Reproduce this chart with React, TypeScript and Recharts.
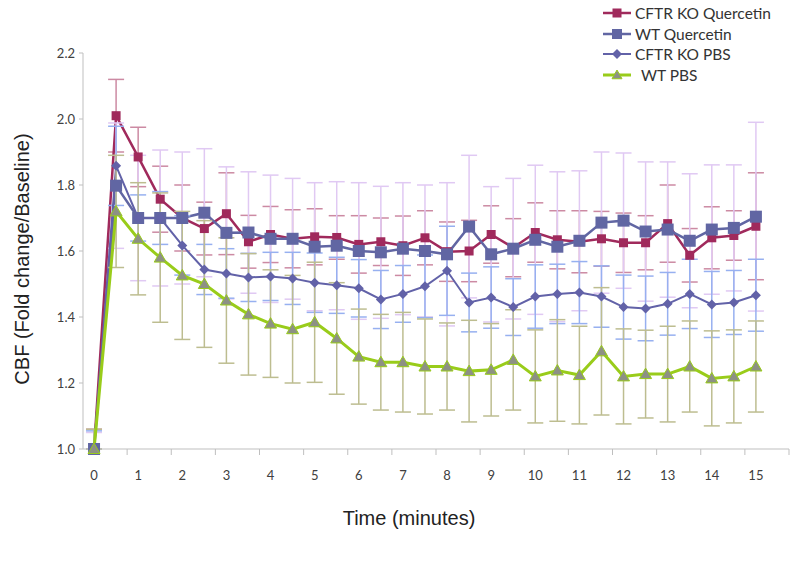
import React from "react";
import { LineChart, Line, XAxis, YAxis, ErrorBar } from "recharts";

// time points (minutes)
const times = [
  0, 0.5, 1, 1.5, 2, 2.5, 3, 3.5, 4, 4.5, 5, 5.5, 6, 6.5, 7, 7.5, 8, 8.5, 9, 9.5,
  10, 10.5, 11, 11.5, 12, 12.5, 13, 13.5, 14, 14.5, 15,
];

const cftrKoQuercetin = [
  1.0, 2.01, 1.885, 1.757, 1.7, 1.668, 1.713, 1.628, 1.65, 1.637, 1.643, 1.641,
  1.62, 1.628, 1.616, 1.64, 1.598, 1.6, 1.65, 1.61, 1.656, 1.634, 1.628, 1.637,
  1.625, 1.625, 1.683, 1.587, 1.64, 1.647, 1.675,
];
const wtQuercetin = [
  1.0, 1.798, 1.7, 1.7, 1.7, 1.716, 1.655, 1.656, 1.637, 1.637, 1.613, 1.616,
  1.6, 1.596, 1.607, 1.6, 1.59, 1.674, 1.59, 1.607, 1.634, 1.613, 1.631, 1.686,
  1.692, 1.659, 1.665, 1.631, 1.665, 1.67, 1.704,
];
const cftrKoPbs = [
  1.0, 1.858, 1.7, 1.7, 1.617, 1.544, 1.532, 1.52, 1.523, 1.517, 1.504, 1.496,
  1.487, 1.453, 1.47, 1.493, 1.54, 1.444, 1.459, 1.43, 1.462, 1.47, 1.474, 1.462,
  1.43, 1.426, 1.44, 1.47, 1.438, 1.444, 1.466,
];
const wtPbs = [
  1.0, 1.72, 1.637, 1.58, 1.526, 1.5, 1.45, 1.408, 1.38, 1.363, 1.384, 1.335,
  1.28, 1.263, 1.263, 1.25, 1.25, 1.236, 1.24, 1.27, 1.22, 1.238, 1.224, 1.296,
  1.22, 1.227, 1.227, 1.25, 1.214, 1.22, 1.25,
];

// error bar half-widths ([down, up] at baseline)
const cftrKoQuercetinErr = [
  [0, 0.06], 0.11, 0.09, 0.1, 0.1, 0.08, 0.124, 0.08, 0.085, 0.088, 0.085, 0.066,
  0.087, 0.072, 0.09, 0.082, 0.09, 0.093, 0.087, 0.088, 0.09, 0.088, 0.094, 0.083,
  0.09, 0.082, 0.117, 0.081, 0.094, 0.075, 0.162,
];
const wtQuercetinErr = [
  [0, 0.05], 0.19, 0.19, 0.206, 0.2, 0.194, 0.2, 0.184, 0.193, 0.183, 0.194, 0.194,
  0.207, 0.2, 0.2, 0.2, 0.217, 0.216, 0.205, 0.213, 0.226, 0.227, 0.212, 0.214,
  0.205, 0.211, 0.205, 0.203, 0.196, 0.191, 0.286,
];
const cftrKoPbsErr = [
  [0, 0.055], 0.12, 0.07, 0.08, 0.09, 0.076, 0.075, 0.073, 0.073, 0.079, 0.09,
  0.085, 0.087, 0.088, 0.086, 0.095, 0.135, 0.089, 0.093, 0.086, 0.096, 0.09,
  0.094, 0.093, 0.097, 0.098, 0.095, 0.105, 0.1, 0.097, 0.109,
];
const wtPbsErr = [
  [0, 0.06], 0.17, 0.17, 0.196, 0.194, 0.192, 0.19, 0.184, 0.163, 0.163, 0.182,
  0.169, 0.144, 0.145, 0.151, 0.144, 0.132, 0.154, 0.14, 0.152, 0.141, 0.154,
  0.148, 0.193, 0.144, 0.133, 0.145, 0.138, 0.144, 0.141, 0.138,
];

const xLabelTicks = [0, 1, 2, 3, 4, 5, 6, 7, 8, 9, 10, 11, 12, 13, 14, 15];
const xMarkTicks = [
  0.75, 1.75, 2.75, 3.75, 4.75, 5.75, 6.75, 7.75, 8.75, 9.75, 10.75, 11.75,
  12.75, 13.75, 14.75, 15.75,
];
const yTicks = [1.0, 1.2, 1.4, 1.6, 1.8, 2.0, 2.2];

const data = times.map((t, i) => ({
  t,
  cftrQ: cftrKoQuercetin[i],
  cftrQErr: cftrKoQuercetinErr[i],
  wtQ: wtQuercetin[i],
  wtQErr: wtQuercetinErr[i],
  cftrP: cftrKoPbs[i],
  cftrPErr: cftrKoPbsErr[i],
  wtP: wtPbs[i],
  wtPErr: wtPbsErr[i],
}));

const series = [
  { key: "cftrQ", name: "CFTR KO Quercetin", color: "#a02a5c", errColor: "#cc8aa3", width: 2.5, shape: "square", size: 9 },
  { key: "wtQ", name: "WT Quercetin", color: "#6166a3", errColor: "#e0c9f3", width: 2.5, shape: "square", size: 12 },
  { key: "cftrP", name: "CFTR KO PBS", color: "#6262a8", errColor: "#97b0f0", width: 2, shape: "diamond", size: 10 },
  { key: "wtP", name: "WT PBS", color: "#99cc1a", errColor: "#bdbd90", width: 3, shape: "triangle", size: 12 },
];

const markerFill = (s: any) => (s.shape === "triangle" ? "#8d9184" : s.color);

function Marker({ s, cx, cy }: { s: any; cx: number; cy: number }) {
  const h = s.size / 2;
  if (s.shape === "square") {
    return <rect x={cx - h} y={cy - h} width={s.size} height={s.size} fill={markerFill(s)} />;
  }
  if (s.shape === "diamond") {
    return (
      <polygon
        points={`${cx},${cy - h} ${cx + h},${cy} ${cx},${cy + h} ${cx - h},${cy}`}
        fill={markerFill(s)}
      />
    );
  }
  return (
    <polygon
      points={`${cx},${cy - h} ${cx + h},${cy + h * 0.75} ${cx - h},${cy + h * 0.75}`}
      fill={markerFill(s)}
      stroke={s.color}
      strokeWidth={1}
    />
  );
}

const makeDot = (s: any) => (p: any) => {
  if (p.cx == null || p.cy == null) return <g key={`${s.key}-${p.index}`} />;
  return (
    <g key={`${s.key}-${p.index}`}>
      <Marker s={s} cx={p.cx} cy={p.cy} />
    </g>
  );
};

const TimeTick = (props: any) => {
  const { x, y, payload } = props;
  const v = payload.value;
  if (Number.isInteger(v)) {
    return (
      <text x={x} y={y} dy={31} textAnchor="middle" fontSize={13} fill="#404040" fontFamily="Lato, sans-serif">
        {v}
      </text>
    );
  }
  return <line x1={x} x2={x} y1={y} y2={y + 6} stroke="#bfbfbf" strokeWidth={1} />;
};

const LegendBox = () => (
  <div
    style={{
      position: "absolute",
      left: 603,
      top: 3,
      fontFamily: "Lato, sans-serif",
      fontSize: 15.5,
      color: "#333",
    }}
  >
    {series.map((s) => (
      <div key={s.key} style={{ display: "flex", alignItems: "center", height: 20.5 }}>
        <svg width={30} height={16} style={{ marginRight: 2 }}>
          <line x1={0} x2={28} y1={8} y2={8} stroke={s.color} strokeWidth={s.width} />
          <Marker s={{ ...s, size: Math.min(s.size, 10) }} cx={14} cy={8} />
        </svg>
        <span style={{ marginLeft: s.key === "wtP" ? 6 : 0 }}>{s.name}</span>
      </div>
    ))}
  </div>
);

export default function App() {
  return (
    <div style={{ position: "absolute", left: 0, top: 0, width: 800, height: 564, background: "#fff" }}>
      <LineChart width={800} height={564} data={data} margin={{ top: 53, right: 11, bottom: 79, left: 5 }}>
        <XAxis
          dataKey="t"
          type="number"
          domain={[-0.25, 15.75]}
          ticks={[...xLabelTicks, ...xMarkTicks].sort((a, b) => a - b)}
          interval={0}
          tick={<TimeTick />}
          tickLine={false}
          tickSize={0}
          tickMargin={0}
          height={36}
          stroke="#bfbfbf"
          allowDecimals
        />
        <YAxis
          type="number"
          domain={[1, 2.2]}
          ticks={yTicks}
          interval={0}
          width={78}
          tickSize={4}
          tickMargin={4}
          tickFormatter={(v: number) => v.toFixed(1)}
          tick={{ fontSize: 13, fill: "#404040", fontFamily: "Lato, sans-serif" }}
          stroke="#bfbfbf"
        />
        {series.map((s) => (
          <Line
            key={s.key}
            dataKey={s.key}
            name={s.name}
            type="linear"
            stroke={s.color}
            strokeWidth={s.width}
            dot={makeDot(s)}
            activeDot={false}
            isAnimationActive={false}
          >
            <ErrorBar
              dataKey={`${s.key}Err`}
              direction="y"
              width={8}
              stroke={s.errColor}
              strokeWidth={1.5}
            />
          </Line>
        ))}
      </LineChart>
      <LegendBox />
      <div
        style={{
          position: "absolute",
          left: 22 - 160,
          top: 259 - 12,
          width: 320,
          height: 24,
          lineHeight: "24px",
          textAlign: "center",
          transform: "rotate(-90deg)",
          fontFamily: "'Liberation Sans', Arial, sans-serif",
          fontSize: 20,
          color: "#222",
        }}
      >
        CBF (Fold change/Baseline)
      </div>
      <div
        style={{
          position: "absolute",
          left: 409 - 150,
          top: 518 - 12,
          width: 300,
          height: 24,
          lineHeight: "24px",
          textAlign: "center",
          fontFamily: "'Liberation Sans', Arial, sans-serif",
          fontSize: 20,
          color: "#222",
        }}
      >
        Time (minutes)
      </div>
    </div>
  );
}
